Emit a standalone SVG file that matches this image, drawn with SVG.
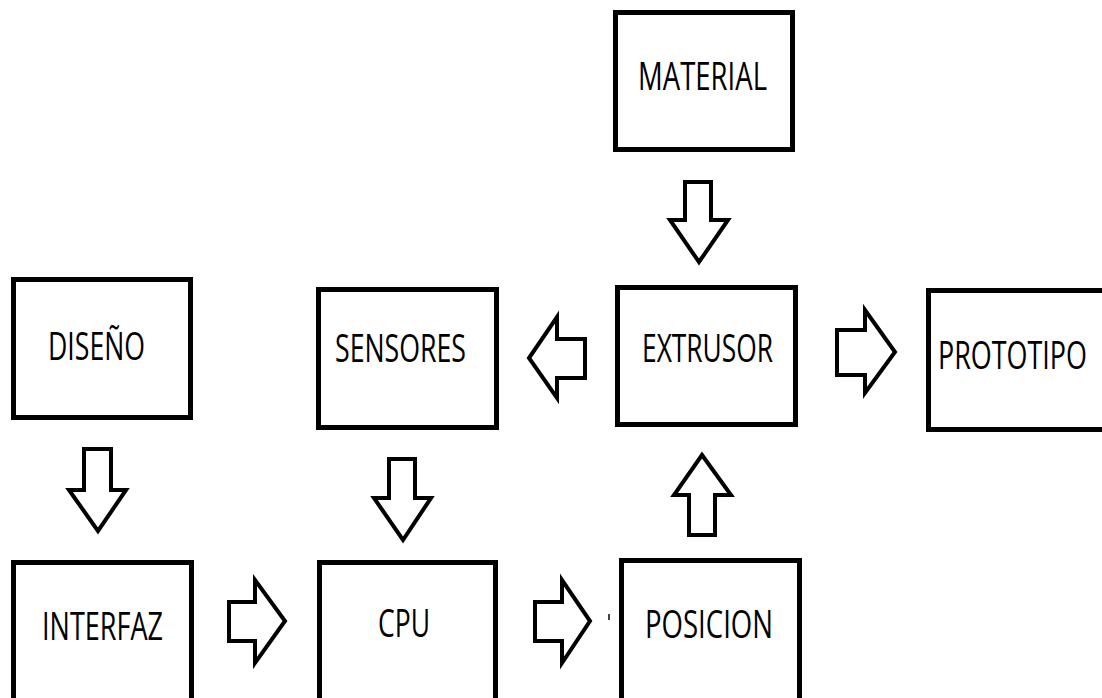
<svg xmlns="http://www.w3.org/2000/svg" width="1102" height="698" viewBox="0 0 1102 698">
<style>
.box{fill:#fff;stroke:#000;stroke-width:5}
.arr{fill:#fff;stroke:#000;stroke-width:4;stroke-linejoin:miter}
.lbl{font-family:"Open Sans","Liberation Sans",sans-serif;font-size:38px;fill:#000}
</style>
<rect width="1102" height="698" fill="#fff"/>
<g id="connectors">
<path class="arr" d="M685,182 H711 V220 H728 L699,262 L670,220 H685 Z"/>
<path class="arr" d="M389,459 H415 V498 H431 L403,540 L374,498 H389 Z"/>
<path class="arr" d="M84,449 H111 V490 H126 L98,531 L69,490 H84 Z"/>
<path class="arr" d="M689,535 H715 V495 H731 L702,455 L674,495 H689 Z"/>
<path class="arr" d="M585,339 V378 H557 V398 L529,358 L557,317 V339 Z"/>
<path class="arr" d="M837,330 V375 H865 V393 L895,352 L865,310 V330 Z"/>
<path class="arr" d="M229,602 V641 H255 V663 L285,621 L255,580 V602 Z"/>
<path class="arr" d="M535,602 V641 H562 V663 L590,621 L562,580 V602 Z"/>
<rect x="608" y="614" width="2" height="6" fill="#444"/>
</g>
<g id="material"><rect class="box" x="615.5" y="12.5" width="177" height="137"/><text class="lbl" x="638" y="90" textLength="129" lengthAdjust="spacingAndGlyphs">MATERIAL</text></g>
<g id="diseno"><rect class="box" x="13.5" y="279.5" width="177" height="138"/><text class="lbl" x="48" y="360" textLength="97" lengthAdjust="spacingAndGlyphs">DISEÑO</text></g>
<g id="sensores"><rect class="box" x="318.5" y="289.5" width="178" height="138"/><text class="lbl" x="335" y="362" textLength="131" lengthAdjust="spacingAndGlyphs">SENSORES</text></g>
<g id="extrusor"><rect class="box" x="617.5" y="287.5" width="178" height="137"/><text class="lbl" x="642" y="362" textLength="131" lengthAdjust="spacingAndGlyphs">EXTRUSOR</text></g>
<g id="prototipo"><rect class="box" x="928.5" y="290.5" width="200" height="139"/><text class="lbl" x="938" y="369" textLength="149" lengthAdjust="spacingAndGlyphs">PROTOTIPO</text></g>
<g id="interfaz"><rect class="box" x="13.5" y="562.5" width="178" height="150"/><text class="lbl" x="42" y="640" textLength="121" lengthAdjust="spacingAndGlyphs">INTERFAZ</text></g>
<g id="cpu"><rect class="box" x="319.5" y="562.5" width="176" height="150"/><text class="lbl" x="378" y="637" textLength="52" lengthAdjust="spacingAndGlyphs">CPU</text></g>
<g id="posicion"><rect class="box" x="621.5" y="560.5" width="178" height="150"/><text class="lbl" x="645" y="638" textLength="128" lengthAdjust="spacingAndGlyphs">POSICION</text></g>
</svg>
